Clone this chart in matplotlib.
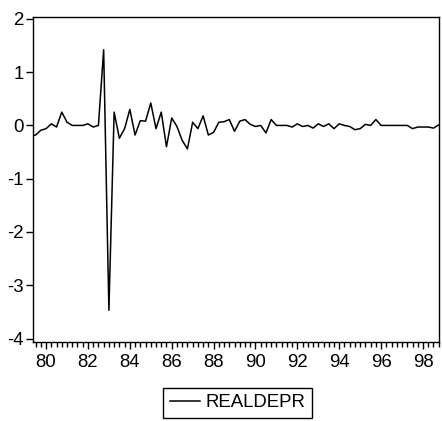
import numpy as np
import matplotlib.pyplot as plt
from matplotlib.ticker import MultipleLocator, FixedLocator

plt.rcParams['font.family'] = ['Liberation Sans', 'DejaVu Sans']

# serie trimestrale 1979Q2 - 1998Q4
start_year = 1979
start_quarter = 2
realdepr = [
    -0.20, -0.18, -0.09,                     # 1979 Q2-Q4
    -0.06, 0.03, -0.03, 0.25,                # 1980
    0.06, 0.00, 0.00, 0.00,                  # 1981
    0.03, -0.03, 0.00, 1.42,                 # 1982
    -3.47, 0.25, -0.24, -0.06,               # 1983
    0.30, -0.18, 0.09, 0.08,                 # 1984
    0.42, -0.06, 0.25, -0.40,                # 1985
    0.14, -0.02, -0.28, -0.44,               # 1986
    0.06, -0.06, 0.18, -0.18,                # 1987
    -0.13, 0.06, 0.07, 0.11,                 # 1988
    -0.11, 0.08, 0.11, 0.02,                 # 1989
    -0.02, 0.00, -0.14, 0.11,                # 1990
    0.00, 0.00, 0.00, -0.03,                 # 1991
    0.03, -0.02, 0.00, -0.05,                # 1992
    0.03, -0.02, 0.03, -0.06,                # 1993
    0.03, 0.00, -0.02, -0.08,                # 1994
    -0.06, 0.02, 0.00, 0.11,                 # 1995
    0.00, 0.00, 0.00, 0.00,                  # 1996
    0.00, 0.00, -0.06, -0.03,                # 1997
    -0.03, -0.03, -0.05, 0.01,               # 1998
]
year_labels = ["80", "82", "84", "86", "88", "90", "92", "94", "96", "98"]
year_ticks = [1980, 1982, 1984, 1986, 1988, 1990, 1992, 1994, 1996, 1998]

# asse dei tempi in anni decimali
t = start_year + (start_quarter - 1) / 4 + np.arange(len(realdepr)) / 4

fig = plt.figure(figsize=(4.42, 4.21), dpi=100)
ax = fig.add_axes([33.3 / 442, 1 - 341.7 / 421, (438.7 - 33.3) / 442, (341.7 - 17.3) / 421])

ax.plot(t, realdepr, color="black", lw=1.1, label="REALDEPR")

ax.set_xlim(1979.39, 1998.75)
ax.set_ylim(-4.06, 2.03)
ax.set_yticks([-4, -3, -2, -1, 0, 1, 2])
ax.set_yticklabels(["-4", "-3", "-2", "-1", "0", "1", "2"])
ax.xaxis.set_major_locator(FixedLocator(year_ticks))
ax.set_xticklabels(year_labels)
ax.xaxis.set_minor_locator(MultipleLocator(0.25))

for s in ax.spines.values():
    s.set_linewidth(1.0)
ax.tick_params(axis="both", which="major", direction="out", length=5, width=1.0,
               labelsize=13.4, pad=2)
ax.tick_params(axis="x", which="minor", direction="out", length=3.5, width=1.0)
ax.tick_params(axis="x", which="major", length=5, pad=4)

fig.legend(loc="center", bbox_to_anchor=(237.5 / 442, 1 - 402.8 / 421),
           fontsize=13.4, frameon=True, fancybox=False, edgecolor="black",
           framealpha=1, handlelength=1.6, handletextpad=0.3, borderpad=0.35)
fig.legend_ = None
for leg in fig.legends:
    leg.get_frame().set_linewidth(1.0)

fig.savefig("out.png", dpi=100)
